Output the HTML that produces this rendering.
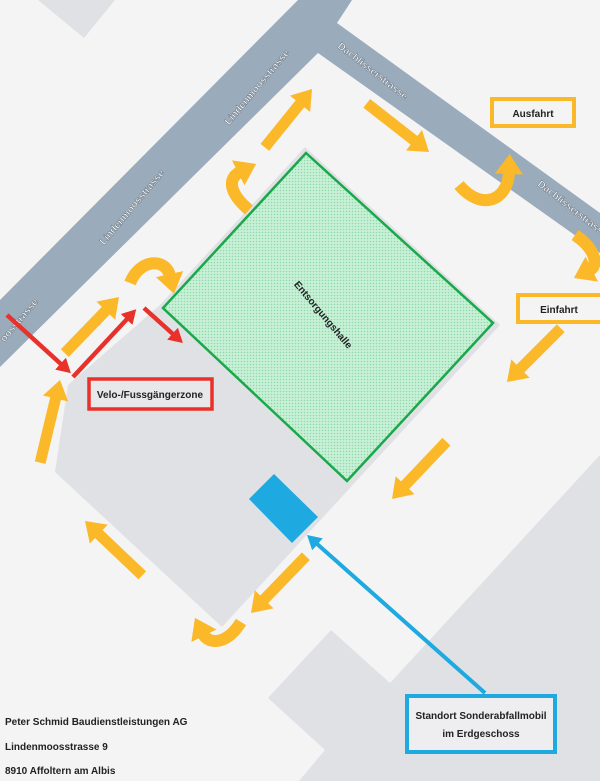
<!DOCTYPE html>
<html><head><meta charset="utf-8"><style>
html,body{margin:0;padding:0;background:#f4f4f4;}
svg{display:block;}
</style></head><body>
<svg width="600" height="781" viewBox="0 0 600 781" xmlns="http://www.w3.org/2000/svg" font-family="Liberation Sans, sans-serif">
<defs>
<pattern id="dots" width="3" height="3" patternUnits="userSpaceOnUse">
<rect width="3" height="3" fill="#c8f0d8"/><circle cx="1.5" cy="1.5" r="0.8" fill="#8fd9a8"/>
</pattern>
<marker id="mo" markerUnits="userSpaceOnUse" markerWidth="30" markerHeight="30" refX="2" refY="14" orient="auto"><path d="M0,0 L20,14 L0,28 Z" fill="#fbb829"/></marker>
<marker id="mr" markerUnits="userSpaceOnUse" markerWidth="20" markerHeight="20" refX="2" refY="8" orient="auto"><path d="M0,0 L14,8 L0,16 Z" fill="#e8312a"/></marker>
<marker id="mb" markerUnits="userSpaceOnUse" markerWidth="20" markerHeight="20" refX="2" refY="8" orient="auto"><path d="M0,0 L14,8 L0,16 Z" fill="#1ea9e1"/></marker>
</defs>
<rect width="600" height="781" fill="#f4f4f4"/>
<!-- buildings -->
<polygon points="38,0 115,0 84,38" fill="#e0e1e5"/>
<polygon points="268,698 331,630 390,683 600,455 600,781 299,781 325,750" fill="#e0e1e5"/>
<polygon points="55,472 68,385 160,305 305,147 500,325 222,627" fill="#e0e1e5"/>
<!-- roads -->
<polygon points="298,0 352,0 337,23 600,213 600,253 318,53 0,367 0,300" fill="#9aabbb"/>
<!-- hall -->
<polygon points="306,153 493,323 347,481 163,308" fill="url(#dots)" stroke="#1aa84a" stroke-width="2.5"/>
<text x="323" y="318" font-size="10" font-weight="bold" fill="#222" text-anchor="middle" transform="rotate(50 323 315)">Entsorgungshalle</text>
<!-- street labels -->
<g font-size="10" fill="#fff" stroke="#6c7885" stroke-width="0.5" font-weight="bold">
<text x="258" y="90" text-anchor="middle" transform="rotate(-50 258 88)">Lindenmoosstrasse</text>
<text x="133" y="210" text-anchor="middle" transform="rotate(-50 133 208)">Lindenmoosstrasse</text>
<text x="20" y="323" text-anchor="middle" transform="rotate(-50 20 321)">oosstrasse</text>
<text x="372" y="74" text-anchor="middle" transform="rotate(38 372 72)">Dachlisserstrasse</text>
<text x="572" y="212" text-anchor="middle" transform="rotate(38 572 210)">Dachlisserstrasse</text>
</g>
<!-- blue -->
<polygon points="274,474 318,517 292,543 249,499" fill="#1ea9e1"/>
<line x1="485" y1="693" x2="316" y2="543" stroke="#1ea9e1" stroke-width="4" marker-end="url(#mb)"/>
<!-- orange block arrows -->
<g fill="#fbb829">
<g transform="translate(312,89) rotate(-51)"><polygon points="0,0 -19,-13 -19,13"/><rect x="-75" y="-5.5" width="57" height="11"/></g>
<g transform="translate(429,152) rotate(38)"><polygon points="0,0 -19,-13 -19,13"/><rect x="-79" y="-5.5" width="61" height="11"/></g>
<g transform="translate(119,297) rotate(-46)"><polygon points="0,0 -19,-13 -19,13"/><rect x="-78" y="-5.5" width="60" height="11"/></g>
<g transform="translate(60,380) rotate(-76.5)"><polygon points="0,0 -19,-13 -19,13"/><rect x="-85" y="-5.5" width="67" height="11"/></g>
<g transform="translate(85,521) rotate(-136.5)"><polygon points="0,0 -19,-13 -19,13"/><rect x="-79" y="-5.5" width="61" height="11"/></g>
<g transform="translate(251,613) rotate(134)"><polygon points="0,0 -19,-13 -19,13"/><rect x="-79" y="-5.5" width="61" height="11"/></g>
<g transform="translate(392,499) rotate(133.5)"><polygon points="0,0 -19,-13 -19,13"/><rect x="-79" y="-5.5" width="61" height="11"/></g>
<g transform="translate(507,382) rotate(135)"><polygon points="0,0 -19,-13 -19,13"/><rect x="-76" y="-5.5" width="58" height="11"/></g>
</g>
<!-- curved orange -->
<g fill="none" stroke="#fbb829" stroke-width="12" marker-end="url(#mo)">
<path d="M249,210 C228,192 228,178 240,172"/>
<path d="M130,283 C140,258 166,258 170,276"/>
<path d="M459,185 C482,212 508,200 509,172"/>
<path d="M575,235 C597,250 598,266 590,270"/>
<path d="M241,622 C226,646 208,644 203,634"/>
</g>
<!-- red arrows -->
<g stroke="#e8312a" stroke-width="4.5" marker-end="url(#mr)">
<line x1="7" y1="315" x2="62" y2="365"/>
<line x1="73" y1="377" x2="128" y2="318"/>
<line x1="144" y1="308" x2="174" y2="335"/>
</g>
<!-- boxes -->
<rect x="492" y="99" width="82" height="27" fill="#f4f4f4" stroke="#fbb829" stroke-width="4"/>
<text x="533" y="117" font-size="10" font-weight="bold" fill="#222" text-anchor="middle">Ausfahrt</text>
<rect x="518" y="295" width="84" height="27" fill="#f4f4f4" stroke="#fbb829" stroke-width="4"/>
<text x="559" y="313" font-size="10" font-weight="bold" fill="#222" text-anchor="middle">Einfahrt</text>
<rect x="89" y="379" width="123" height="30" fill="#e8e8ea" stroke="#e8312a" stroke-width="3.5"/>
<text x="150" y="398" font-size="10" font-weight="bold" fill="#222" text-anchor="middle">Velo-/Fussgängerzone</text>
<rect x="407" y="696" width="148" height="56" fill="#eeeef0" stroke="#1ea9e1" stroke-width="4"/>
<text x="481" y="719" font-size="10" font-weight="bold" fill="#222" text-anchor="middle">Standort Sonderabfallmobil</text>
<text x="481" y="737" font-size="10" font-weight="bold" fill="#222" text-anchor="middle">im Erdgeschoss</text>
<!-- address -->
<g font-size="10" font-weight="bold" fill="#222">
<text x="5" y="725">Peter Schmid Baudienstleistungen AG</text>
<text x="5" y="750">Lindenmoosstrasse 9</text>
<text x="5" y="774">8910 Affoltern am Albis</text>
</g>
</svg>
</body></html>
